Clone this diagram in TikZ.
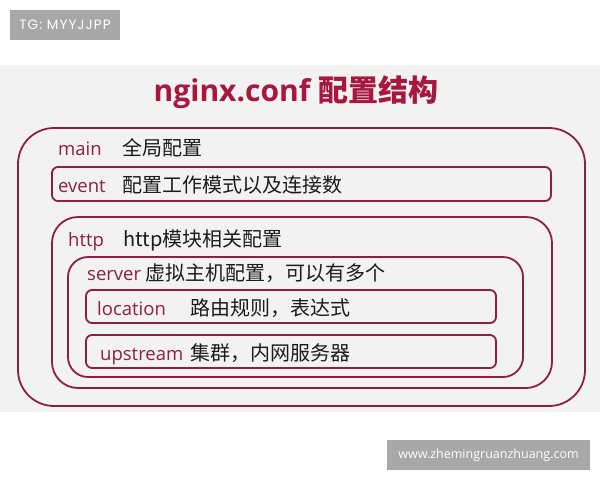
\documentclass[tikz,border=0pt]{standalone}
\usepackage{fontspec}
\setmainfont{Open Sans}
\newfontfamily\cjk{Noto Sans CJK SC}
\newfontfamily\wmfont{Poppins}[LetterSpace=8]
\usetikzlibrary{positioning}

\definecolor{confred}{HTML}{8E1F40}
\definecolor{titlered}{HTML}{A8173F}
\definecolor{descblack}{HTML}{1C1C1C}
\definecolor{panelgray}{HTML}{F2F2F2}
\definecolor{markgray}{HTML}{A8A8A8}

\begin{document}
\begin{tikzpicture}[x=1pt, y=-1pt,
    frame/.style={draw=confred, line width=1.8pt, inner sep=0pt},
    keyword/.style={text=confred, font=\fontsize{18.5}{20}\selectfont, anchor=base west, inner sep=0pt},
    descr/.style={text=descblack, font=\cjk\fontsize{20}{22}\selectfont, anchor=base west, inner sep=0pt},
    watermark/.style={fill=markgray, text=white, inner sep=0pt}]

    \useasboundingbox (0,0) rectangle (600,480);
    \fill[panelgray] (0,65) rectangle (600,412);

    % corner marks
    \node[watermark, minimum width=110pt, minimum height=30pt, font=\wmfont\fontsize{13.5}{15}\selectfont]
        (tg) at (65,25) {TG: MYYJJPP};
    \node[watermark, minimum width=203pt, minimum height=30pt, font=\fontsize{12.5}{14}\selectfont]
        (site) at (488.5,455) {www.zhemingruanzhuang.com};

    \node[anchor=base, inner sep=0pt, text=titlered, font=\bfseries\fontsize{30}{32}\selectfont]
        (title) at (296,101) {nginx.conf {\cjk\bfseries 配置结构}};

    % the nested blocks
    \node[frame, rounded corners=36pt, minimum width=567pt, minimum height=278pt] (main) at (301.5,267) {};
    \node[frame, rounded corners=6pt, minimum width=499pt, minimum height=34pt] (event) at (301.5,184) {};
    \node[frame, rounded corners=26pt, minimum width=500pt, minimum height=171pt] (http) at (302,302.5) {};
    \node[frame, rounded corners=20pt, minimum width=455pt, minimum height=120pt] (server) at (295.5,317) {};
    \node[frame, rounded corners=6pt, minimum width=410pt, minimum height=33pt] (location) at (291,306.5) {};
    \node[frame, rounded corners=6pt, minimum width=410pt, minimum height=33pt] (upstream) at (291,351.5) {};

    \node[keyword] (mainkw) at (58,155) {main};
    \node[descr] (maindesc) at (122,155) {全局配置};
    \node[keyword] (eventkw) at (58,192) {event};
    \node[descr] (eventdesc) at (122,192) {配置工作模式以及连接数};
    \node[keyword] (httpkw) at (68,246) {http};
    \node[descr] (httpdesc) at (123,246) {http模块相关配置};
    \node[keyword] (serverkw) at (87,280) {server};
    \node[descr] (serverdesc) at (145,280) {虚拟主机配置，可以有多个};
    \node[keyword] (locationkw) at (97,315) {location};
    \node[descr] (locationdesc) at (190,315) {路由规则，表达式};
    \node[keyword] (upstreamkw) at (100,360) {upstream};
    \node[descr] (upstreamdesc) at (190,360) {集群，内网服务器};
\end{tikzpicture}
\end{document}
